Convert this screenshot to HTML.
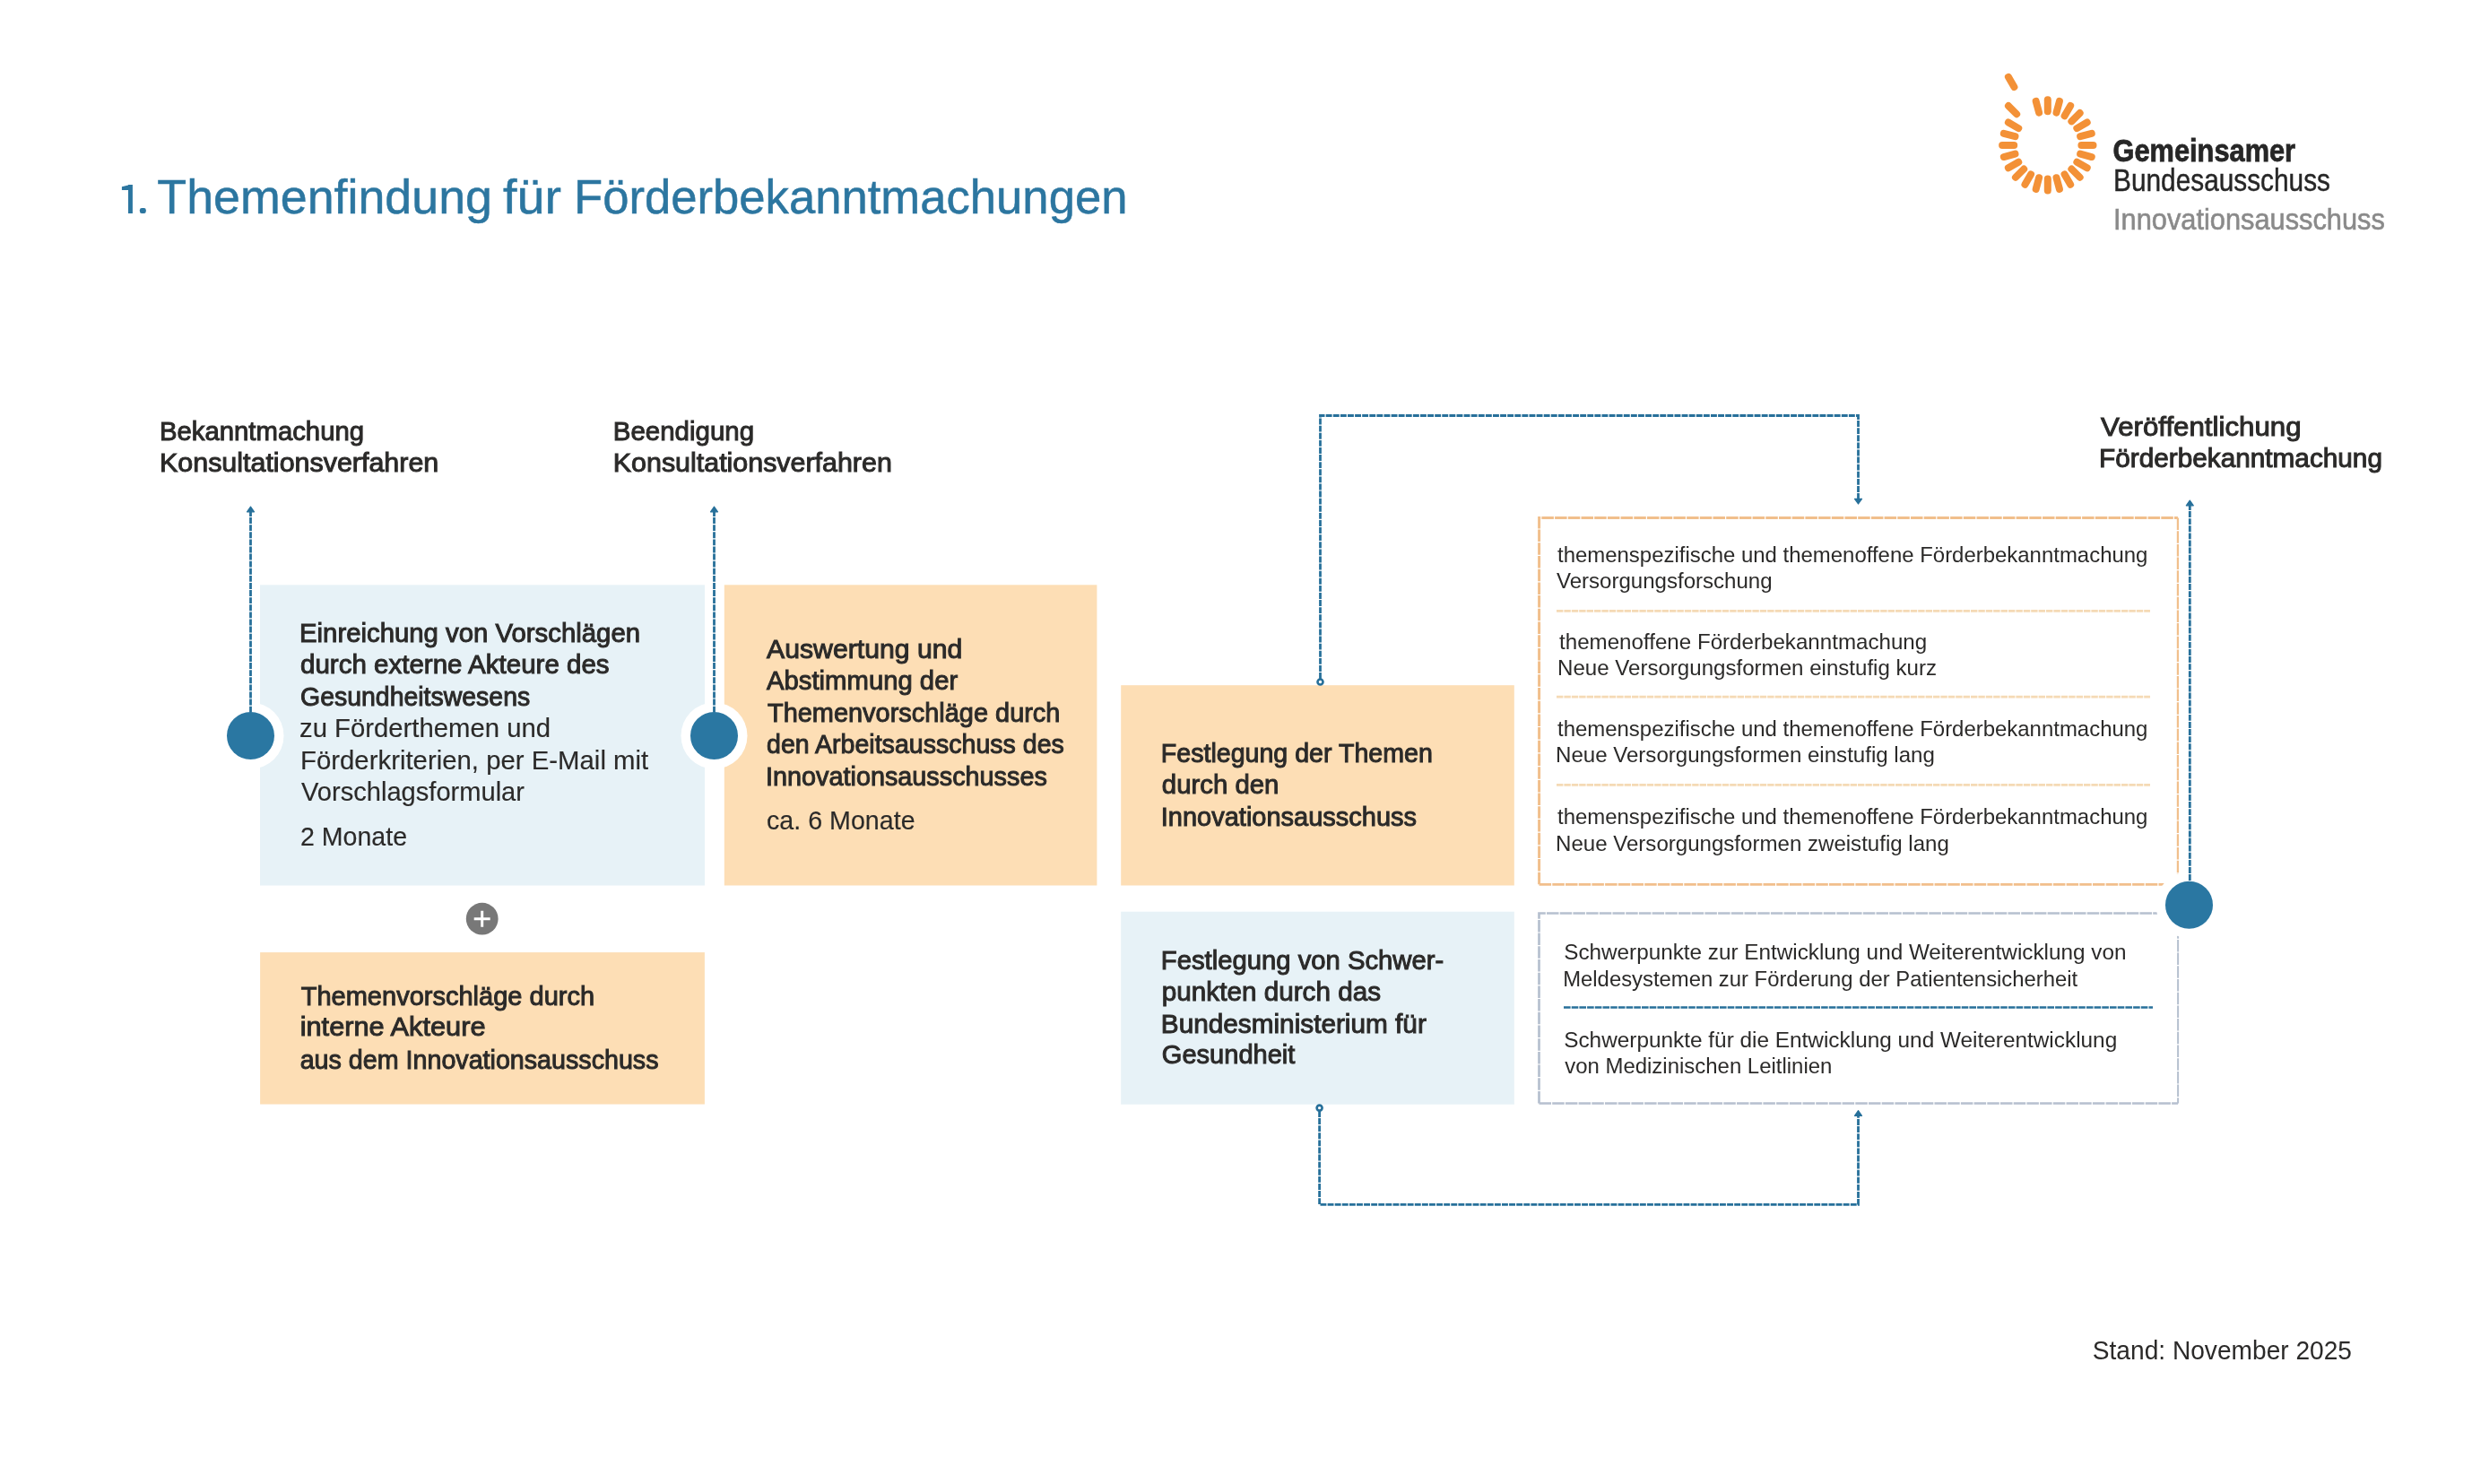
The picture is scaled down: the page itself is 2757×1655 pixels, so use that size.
<!DOCTYPE html>
<html><head><meta charset="utf-8"><title>Themenfindung</title>
<style>html,body{margin:0;padding:0;background:#fff;}svg{display:block;will-change:transform;}</style></head>
<body><svg width="2757" height="1655" viewBox="0 0 2757 1655">
<rect width="2757" height="1655" fill="#ffffff"/>
<rect x="290" y="652.3" width="496.0" height="335.2" fill="#e7f2f7"/>
<rect x="807.8" y="652.3" width="415.6" height="335.2" fill="#fddeb5"/>
<rect x="1250.2" y="764.2" width="438.6" height="223.3" fill="#fddeb5"/>
<rect x="1250.2" y="1016.7" width="438.6" height="215.0" fill="#e7f2f7"/>
<rect x="290.1" y="1062.1" width="495.8" height="169.4" fill="#fddeb5"/>
<path d="M1716.6,986.3 V577.5 H2428.9" fill="none" stroke="#f1bf8c" stroke-width="3" stroke-dasharray="13.5 1.2"/>
<path d="M2428.9,577.5 V986.3" fill="none" stroke="#f1bf8c" stroke-width="2.2" stroke-dasharray="13.5 1.2"/>
<path d="M1716.6,986.3 H2428.9" fill="none" stroke="#f1bf8c" stroke-width="2.7" stroke-dasharray="13.5 1.2"/>
<line x1="1736" y1="681.3" x2="2398" y2="681.3" stroke="#f5dab5" stroke-width="2.7" stroke-dasharray="7.4 1"/>
<line x1="1736" y1="777.1" x2="2398" y2="777.1" stroke="#f5dab5" stroke-width="2.7" stroke-dasharray="7.4 1"/>
<line x1="1736" y1="875.3" x2="2398" y2="875.3" stroke="#f5dab5" stroke-width="2.7" stroke-dasharray="7.4 1"/>
<path d="M1716.5,1230.5 V1018.5 H2429.1" fill="none" stroke="#b6c0cf" stroke-width="2.7" stroke-dasharray="13.5 1.2"/>
<path d="M2429.1,1018.5 V1230.5" fill="none" stroke="#b6c0cf" stroke-width="2.0" stroke-dasharray="13.5 1.2"/>
<path d="M1716.5,1230.5 H2429.1" fill="none" stroke="#b6c0cf" stroke-width="2.7" stroke-dasharray="13.5 1.2"/>
<line x1="1744" y1="1123.5" x2="2401" y2="1123.5" stroke="#27709a" stroke-width="2.7" stroke-dasharray="7.6 1.1"/>
<circle cx="279.5" cy="820.5" r="37" fill="#fff"/>
<circle cx="796.5" cy="820.5" r="37" fill="#fff"/>
<circle cx="2441.5" cy="1009.2" r="37" fill="#fff"/>
<line x1="279.5" y1="569" x2="279.5" y2="800" stroke="#27709a" stroke-width="2.8" stroke-dasharray="6.9 1.2"/>
<path d="M275.5,570.8 L279.5,565.1 L283.5,570.8 Z" fill="#27709a" stroke="#27709a" stroke-width="1.2" stroke-linejoin="round"/>
<line x1="796.5" y1="569" x2="796.5" y2="800" stroke="#27709a" stroke-width="2.8" stroke-dasharray="6.9 1.2"/>
<path d="M792.5,570.8 L796.5,565.1 L800.5,570.8 Z" fill="#27709a" stroke="#27709a" stroke-width="1.2" stroke-linejoin="round"/>
<line x1="2442.3" y1="562" x2="2442.3" y2="990" stroke="#27709a" stroke-width="2.8" stroke-dasharray="6.9 1.2"/>
<path d="M2438.3,563.8 L2442.3,558.1 L2446.3,563.8 Z" fill="#27709a" stroke="#27709a" stroke-width="1.2" stroke-linejoin="round"/>
<path d="M1472.5,757 L1472.5,463.5 L2072.5,463.5 L2072.5,556" fill="none" stroke="#27709a" stroke-width="2.8" stroke-dasharray="6.9 1.2"/>
<path d="M2068.5,556.3000000000001 L2072.5,562.0 L2076.5,556.3000000000001 Z" fill="#27709a" stroke="#27709a" stroke-width="1.2" stroke-linejoin="round"/>
<circle cx="1472.5" cy="760.5" r="3.0" fill="none" stroke="#27709a" stroke-width="2.6"/>
<path d="M1471.6,1239 L1471.6,1343.4 L2072.5,1343.4 L2072.5,1244" fill="none" stroke="#27709a" stroke-width="2.8" stroke-dasharray="6.9 1.2"/>
<path d="M2068.5,1244.3 L2072.5,1238.6 L2076.5,1244.3 Z" fill="#27709a" stroke="#27709a" stroke-width="1.2" stroke-linejoin="round"/>
<circle cx="1471.6" cy="1235.6" r="3.0" fill="none" stroke="#27709a" stroke-width="2.6"/>
<circle cx="279.5" cy="820.5" r="26.5" fill="#2a77a2"/>
<circle cx="796.5" cy="820.5" r="26.5" fill="#2a77a2"/>
<circle cx="2441.5" cy="1009.2" r="26.5" fill="#2a77a2"/>
<circle cx="537.7" cy="1024.7" r="17.9" fill="#787878"/>
<path d="M528.7,1024.7 H546.7 M537.7,1015.7 V1033.7" stroke="#fff" stroke-width="3"/>
<line x1="2283.80" y1="124.30" x2="2283.80" y2="111.20" stroke="#f39137" stroke-width="8" stroke-linecap="round"/>
<line x1="2293.53" y1="125.58" x2="2296.92" y2="112.93" stroke="#f39137" stroke-width="8" stroke-linecap="round"/>
<line x1="2302.60" y1="129.34" x2="2309.15" y2="117.99" stroke="#f39137" stroke-width="8" stroke-linecap="round"/>
<line x1="2310.39" y1="135.31" x2="2319.65" y2="126.05" stroke="#f39137" stroke-width="8" stroke-linecap="round"/>
<line x1="2316.36" y1="143.10" x2="2327.71" y2="136.55" stroke="#f39137" stroke-width="8" stroke-linecap="round"/>
<line x1="2320.12" y1="152.17" x2="2332.77" y2="148.78" stroke="#f39137" stroke-width="8" stroke-linecap="round"/>
<line x1="2321.40" y1="161.90" x2="2334.50" y2="161.90" stroke="#f39137" stroke-width="8" stroke-linecap="round"/>
<line x1="2320.12" y1="171.63" x2="2332.77" y2="175.02" stroke="#f39137" stroke-width="8" stroke-linecap="round"/>
<line x1="2316.36" y1="180.70" x2="2327.71" y2="187.25" stroke="#f39137" stroke-width="8" stroke-linecap="round"/>
<line x1="2310.39" y1="188.49" x2="2319.65" y2="197.75" stroke="#f39137" stroke-width="8" stroke-linecap="round"/>
<line x1="2302.60" y1="194.46" x2="2309.15" y2="205.81" stroke="#f39137" stroke-width="8" stroke-linecap="round"/>
<line x1="2293.53" y1="198.22" x2="2296.92" y2="210.87" stroke="#f39137" stroke-width="8" stroke-linecap="round"/>
<line x1="2283.80" y1="199.50" x2="2283.80" y2="212.60" stroke="#f39137" stroke-width="8" stroke-linecap="round"/>
<line x1="2274.07" y1="198.22" x2="2270.68" y2="210.87" stroke="#f39137" stroke-width="8" stroke-linecap="round"/>
<line x1="2265.00" y1="194.46" x2="2258.45" y2="205.81" stroke="#f39137" stroke-width="8" stroke-linecap="round"/>
<line x1="2257.21" y1="188.49" x2="2247.95" y2="197.75" stroke="#f39137" stroke-width="8" stroke-linecap="round"/>
<line x1="2251.24" y1="180.70" x2="2239.89" y2="187.25" stroke="#f39137" stroke-width="8" stroke-linecap="round"/>
<line x1="2247.48" y1="171.63" x2="2234.83" y2="175.02" stroke="#f39137" stroke-width="8" stroke-linecap="round"/>
<line x1="2246.20" y1="161.90" x2="2233.10" y2="161.90" stroke="#f39137" stroke-width="8" stroke-linecap="round"/>
<line x1="2247.48" y1="152.17" x2="2234.83" y2="148.78" stroke="#f39137" stroke-width="8" stroke-linecap="round"/>
<line x1="2251.24" y1="143.10" x2="2239.89" y2="136.55" stroke="#f39137" stroke-width="8" stroke-linecap="round"/>
<line x1="2249.15" y1="127.25" x2="2239.96" y2="118.06" stroke="#f39137" stroke-width="8" stroke-linecap="round"/>
<line x1="2246.40" y1="97.12" x2="2239.90" y2="85.86" stroke="#f39137" stroke-width="8" stroke-linecap="round"/>
<line x1="2274.07" y1="125.58" x2="2270.68" y2="112.93" stroke="#f39137" stroke-width="8" stroke-linecap="round"/>
<path d="M143,206.1 H147.9 V238 H143 V211.9 H135.9 V208.2 L143,206.4 Z" fill="#2c76a0"/>
<rect x="155.9" y="232" width="6.9" height="6" rx="2.2" fill="#2c76a0"/>
<text x="175.3" y="238" font-family="Liberation Sans" font-size="53.8" font-weight="400" fill="#2c76a0" stroke="#2c76a0" stroke-width="0.5" textLength="373.65" lengthAdjust="spacingAndGlyphs">Themenfindung</text>
<text x="561.1" y="238" font-family="Liberation Sans" font-size="53.8" font-weight="400" fill="#2c76a0" stroke="#2c76a0" stroke-width="0.5" textLength="64.81" lengthAdjust="spacingAndGlyphs">für</text>
<text x="640.0" y="238" font-family="Liberation Sans" font-size="53.8" font-weight="400" fill="#2c76a0" stroke="#2c76a0" stroke-width="0.5" textLength="617.49" lengthAdjust="spacingAndGlyphs">Förderbekanntmachungen</text>
<text x="2356.5" y="179.5" font-family="Liberation Sans" font-size="35.8" font-weight="700" fill="#262626" stroke="#262626" stroke-width="0.8" textLength="203.6" lengthAdjust="spacingAndGlyphs">Gemeinsamer</text>
<text x="2357.0" y="212.5" font-family="Liberation Sans" font-size="35.8" font-weight="400" fill="#262626" stroke="#262626" stroke-width="0.45" textLength="242.03" lengthAdjust="spacingAndGlyphs">Bundesausschuss</text>
<text x="2357.0" y="255.6" font-family="Liberation Sans" font-size="33.4" font-weight="400" fill="#8a8a8a" stroke="#8a8a8a" stroke-width="0.6" textLength="302.83" lengthAdjust="spacingAndGlyphs">Innovationsausschuss</text>
<text x="178.0" y="491" font-family="Liberation Sans" font-size="29.3" font-weight="400" fill="#2b2a29" stroke="#2b2a29" stroke-width="1.0" textLength="228.04" lengthAdjust="spacingAndGlyphs">Bekanntmachung</text>
<text x="178.0" y="526" font-family="Liberation Sans" font-size="29.3" font-weight="400" fill="#2b2a29" stroke="#2b2a29" stroke-width="1.0" textLength="311.24" lengthAdjust="spacingAndGlyphs">Konsultationsverfahren</text>
<text x="683.8" y="491" font-family="Liberation Sans" font-size="29.3" font-weight="400" fill="#2b2a29" stroke="#2b2a29" stroke-width="1.0" textLength="157.27" lengthAdjust="spacingAndGlyphs">Beendigung</text>
<text x="683.8" y="526" font-family="Liberation Sans" font-size="29.3" font-weight="400" fill="#2b2a29" stroke="#2b2a29" stroke-width="1.0" textLength="311.03" lengthAdjust="spacingAndGlyphs">Konsultationsverfahren</text>
<text x="2343.1" y="485.5" font-family="Liberation Sans" font-size="29.3" font-weight="400" fill="#2b2a29" stroke="#2b2a29" stroke-width="1.0" textLength="223.41" lengthAdjust="spacingAndGlyphs">Veröffentlichung</text>
<text x="2341.1" y="521" font-family="Liberation Sans" font-size="29.3" font-weight="400" fill="#2b2a29" stroke="#2b2a29" stroke-width="1.0" textLength="315.84" lengthAdjust="spacingAndGlyphs">Förderbekanntmachung</text>
<text x="334.0" y="716" font-family="Liberation Sans" font-size="29.3" font-weight="400" fill="#2b2a29" stroke="#2b2a29" stroke-width="1.0" textLength="380.03" lengthAdjust="spacingAndGlyphs">Einreichung von Vorschlägen</text>
<text x="335.0" y="751" font-family="Liberation Sans" font-size="29.3" font-weight="400" fill="#2b2a29" stroke="#2b2a29" stroke-width="1.0" textLength="344.61" lengthAdjust="spacingAndGlyphs">durch externe Akteure des</text>
<text x="335.0" y="787" font-family="Liberation Sans" font-size="29.3" font-weight="400" fill="#2b2a29" stroke="#2b2a29" stroke-width="1.0" textLength="256.21" lengthAdjust="spacingAndGlyphs">Gesundheitswesens</text>
<text x="334.0" y="822" font-family="Liberation Sans" font-size="29.3" font-weight="400" fill="#2b2a29" stroke="#2b2a29" stroke-width="0.15" textLength="280.02" lengthAdjust="spacingAndGlyphs">zu Förderthemen und</text>
<text x="335.0" y="858" font-family="Liberation Sans" font-size="29.3" font-weight="400" fill="#2b2a29" stroke="#2b2a29" stroke-width="0.15" textLength="388.21" lengthAdjust="spacingAndGlyphs">Förderkriterien, per E-Mail mit</text>
<text x="336.0" y="893" font-family="Liberation Sans" font-size="29.3" font-weight="400" fill="#2b2a29" stroke="#2b2a29" stroke-width="0.15" textLength="249.0" lengthAdjust="spacingAndGlyphs">Vorschlagsformular</text>
<text x="335.0" y="943" font-family="Liberation Sans" font-size="29.3" font-weight="400" fill="#2b2a29" stroke="#2b2a29" stroke-width="0.15" textLength="119.03" lengthAdjust="spacingAndGlyphs">2 Monate</text>
<text x="855.0" y="734" font-family="Liberation Sans" font-size="29.3" font-weight="400" fill="#2b2a29" stroke="#2b2a29" stroke-width="1.0" textLength="218.41" lengthAdjust="spacingAndGlyphs">Auswertung und</text>
<text x="855.0" y="769" font-family="Liberation Sans" font-size="29.3" font-weight="400" fill="#2b2a29" stroke="#2b2a29" stroke-width="1.0" textLength="213.2" lengthAdjust="spacingAndGlyphs">Abstimmung der</text>
<text x="856.0" y="805" font-family="Liberation Sans" font-size="29.3" font-weight="400" fill="#2b2a29" stroke="#2b2a29" stroke-width="1.0" textLength="326.4" lengthAdjust="spacingAndGlyphs">Themenvorschläge durch</text>
<text x="855.0" y="840" font-family="Liberation Sans" font-size="29.3" font-weight="400" fill="#2b2a29" stroke="#2b2a29" stroke-width="1.0" textLength="331.81" lengthAdjust="spacingAndGlyphs">den Arbeitsausschuss des</text>
<text x="854.0" y="875.5" font-family="Liberation Sans" font-size="29.3" font-weight="400" fill="#2b2a29" stroke="#2b2a29" stroke-width="1.0" textLength="313.82" lengthAdjust="spacingAndGlyphs">Innovationsausschusses</text>
<text x="855.0" y="925" font-family="Liberation Sans" font-size="29.3" font-weight="400" fill="#2b2a29" stroke="#2b2a29" stroke-width="0.15" textLength="165.63" lengthAdjust="spacingAndGlyphs">ca. 6 Monate</text>
<text x="1294.8" y="850" font-family="Liberation Sans" font-size="29.3" font-weight="400" fill="#2b2a29" stroke="#2b2a29" stroke-width="1.0" textLength="303.04" lengthAdjust="spacingAndGlyphs">Festlegung der Themen</text>
<text x="1295.8" y="885" font-family="Liberation Sans" font-size="29.3" font-weight="400" fill="#2b2a29" stroke="#2b2a29" stroke-width="1.0" textLength="130.64" lengthAdjust="spacingAndGlyphs">durch den</text>
<text x="1294.8" y="920.5" font-family="Liberation Sans" font-size="29.3" font-weight="400" fill="#2b2a29" stroke="#2b2a29" stroke-width="1.0" textLength="285.22" lengthAdjust="spacingAndGlyphs">Innovationsausschuss</text>
<text x="1294.8" y="1081" font-family="Liberation Sans" font-size="29.3" font-weight="400" fill="#2b2a29" stroke="#2b2a29" stroke-width="1.0" textLength="315.42" lengthAdjust="spacingAndGlyphs">Festlegung von Schwer-</text>
<text x="1295.8" y="1115.5" font-family="Liberation Sans" font-size="29.3" font-weight="400" fill="#2b2a29" stroke="#2b2a29" stroke-width="1.0" textLength="244.21" lengthAdjust="spacingAndGlyphs">punkten durch das</text>
<text x="1294.8" y="1152" font-family="Liberation Sans" font-size="29.3" font-weight="400" fill="#2b2a29" stroke="#2b2a29" stroke-width="1.0" textLength="296.01" lengthAdjust="spacingAndGlyphs">Bundesministerium für</text>
<text x="1295.8" y="1186" font-family="Liberation Sans" font-size="29.3" font-weight="400" fill="#2b2a29" stroke="#2b2a29" stroke-width="1.0" textLength="148.6" lengthAdjust="spacingAndGlyphs">Gesundheit</text>
<text x="335.7" y="1120.5" font-family="Liberation Sans" font-size="29.3" font-weight="400" fill="#2b2a29" stroke="#2b2a29" stroke-width="1.0" textLength="327.4" lengthAdjust="spacingAndGlyphs">Themenvorschläge durch</text>
<text x="334.7" y="1155" font-family="Liberation Sans" font-size="29.3" font-weight="400" fill="#2b2a29" stroke="#2b2a29" stroke-width="1.0" textLength="206.82" lengthAdjust="spacingAndGlyphs">interne Akteure</text>
<text x="334.7" y="1192" font-family="Liberation Sans" font-size="29.3" font-weight="400" fill="#2b2a29" stroke="#2b2a29" stroke-width="1.0" textLength="399.81" lengthAdjust="spacingAndGlyphs">aus dem Innovationsausschuss</text>
<text x="1737.0" y="627" font-family="Liberation Sans" font-size="24.4" font-weight="400" fill="#2b2a29" textLength="658.4" lengthAdjust="spacingAndGlyphs">themenspezifische und themenoffene Förderbekanntmachung</text>
<text x="1736.0" y="656" font-family="Liberation Sans" font-size="24.4" font-weight="400" fill="#2b2a29" textLength="240.61" lengthAdjust="spacingAndGlyphs">Versorgungsforschung</text>
<text x="1739.0" y="724" font-family="Liberation Sans" font-size="24.4" font-weight="400" fill="#2b2a29" textLength="410.21" lengthAdjust="spacingAndGlyphs">themenoffene Förderbekanntmachung</text>
<text x="1737.0" y="753" font-family="Liberation Sans" font-size="24.4" font-weight="400" fill="#2b2a29" textLength="423.03" lengthAdjust="spacingAndGlyphs">Neue Versorgungsformen einstufig kurz</text>
<text x="1737.0" y="821" font-family="Liberation Sans" font-size="24.4" font-weight="400" fill="#2b2a29" textLength="658.4" lengthAdjust="spacingAndGlyphs">themenspezifische und themenoffene Förderbekanntmachung</text>
<text x="1735.0" y="850" font-family="Liberation Sans" font-size="24.4" font-weight="400" fill="#2b2a29" textLength="422.83" lengthAdjust="spacingAndGlyphs">Neue Versorgungsformen einstufig lang</text>
<text x="1737.0" y="919" font-family="Liberation Sans" font-size="24.4" font-weight="400" fill="#2b2a29" textLength="658.4" lengthAdjust="spacingAndGlyphs">themenspezifische und themenoffene Förderbekanntmachung</text>
<text x="1735.0" y="948.5" font-family="Liberation Sans" font-size="24.4" font-weight="400" fill="#2b2a29" textLength="438.83" lengthAdjust="spacingAndGlyphs">Neue Versorgungsformen zweistufig lang</text>
<text x="1744.2" y="1070" font-family="Liberation Sans" font-size="24.4" font-weight="400" fill="#2b2a29" textLength="627.21" lengthAdjust="spacingAndGlyphs">Schwerpunkte zur Entwicklung und Weiterentwicklung von</text>
<text x="1743.2" y="1100" font-family="Liberation Sans" font-size="24.4" font-weight="400" fill="#2b2a29" textLength="574.01" lengthAdjust="spacingAndGlyphs">Meldesystemen zur Förderung der Patientensicherheit</text>
<text x="1744.2" y="1168" font-family="Liberation Sans" font-size="24.4" font-weight="400" fill="#2b2a29" textLength="617.01" lengthAdjust="spacingAndGlyphs">Schwerpunkte für die Entwicklung und Weiterentwicklung</text>
<text x="1745.2" y="1197" font-family="Liberation Sans" font-size="24.4" font-weight="400" fill="#2b2a29" textLength="298.21" lengthAdjust="spacingAndGlyphs">von Medizinischen Leitlinien</text>
<text x="2333.8" y="1515.5" font-family="Liberation Sans" font-size="29.0" font-weight="400" fill="#2b2a29" textLength="289.22" lengthAdjust="spacingAndGlyphs">Stand: November 2025</text>
</svg></body></html>
